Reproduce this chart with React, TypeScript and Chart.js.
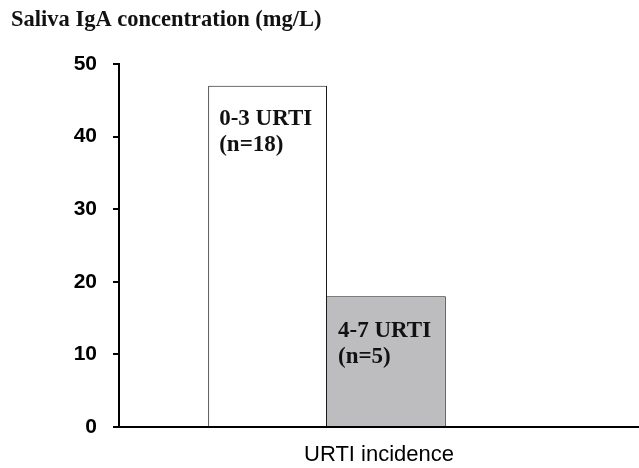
import React, { useEffect, useRef } from 'react';
import { Chart, registerables } from 'chart.js';

Chart.register(...registerables);

// ---- data ----
const groupLabels = ['0-3 URTI', '4-7 URTI'];
const groupSizes = ['(n=18)', '(n=5)'];
const igaValues = [47, 18];
const barColors = ['#ffffff', '#bdbdc0'];
const yMin = 0;
const yMax = 50;
const yStep = 10;
const xTitle = 'URTI incidence';
const chartTitle = 'Saliva IgA concentration (mg/L)';
// the x axis is a 0–5 range, the bar group sits at position 2
const xRange = [0, 5];
const groupPosition = 2;

const barLabelPlugin = {
  id: 'barLabels',
  afterDatasetsDraw(chart: any) {
    const ctx = chart.ctx;
    ctx.save();
    ctx.font = 'bold 23px "Liberation Serif", "DejaVu Serif", serif';
    ctx.fillStyle = '#111';
    ctx.textAlign = 'left';
    ctx.textBaseline = 'alphabetic';
    chart.data.datasets.forEach((_ds: any, i: number) => {
      const meta = chart.getDatasetMeta(i);
      meta.data.forEach((bar: any) => {
        const { x, y, width } = bar.getProps(['x', 'y', 'width'], true);
        const left = x - width / 2 + 11;
        ctx.fillText(groupLabels[i], left, y + 39 + i * 2);
        ctx.fillText(groupSizes[i], left, y + 65 + i * 2);
      });
    });
    ctx.restore();
  },
};

export default function App() {
  const canvasRef = useRef<HTMLCanvasElement | null>(null);

  useEffect(() => {
    if (!canvasRef.current) return;
    const chart = new Chart(canvasRef.current, {
      type: 'bar',
      data: {
        datasets: groupLabels.map((label, i) => ({
          label: `${label} ${groupSizes[i]}`,
          data: [{ x: groupPosition, y: igaValues[i] }],
          backgroundColor: barColors[i],
          borderColor: '#1a1a1a',
          borderWidth: i === 0 ? { top: 1, left: 1, right: 1, bottom: 0 } : { top: 1, left: 0, right: 1, bottom: 0 },
          categoryPercentage: 0.457,
          barPercentage: 1,
        })),
      },
      options: {
        animation: false,
        responsive: true,
        maintainAspectRatio: false,
        layout: { padding: { left: 11, right: 0, top: 0, bottom: 0 } },
        plugins: {
          legend: { display: false },
          tooltip: { enabled: false },
          title: {
            display: true,
            text: chartTitle,
            align: 'start',
            color: '#111',
            font: { family: '"Liberation Serif", "DejaVu Serif", serif', size: 22.5, weight: 'bold' },
            padding: { top: 7, bottom: 30 },
          },
        },
        scales: {
          x: {
            type: 'linear',
            offset: false,
            min: xRange[0],
            max: xRange[1],
            ticks: { display: false, stepSize: 5 },
            grid: { display: false, drawTicks: false },
            border: { display: true, color: '#000', width: 2 },
            title: {
              display: true,
              text: xTitle,
              color: '#000',
              font: { family: '"Liberation Sans", Arial, sans-serif', size: 22 },
              padding: { top: 14.6, bottom: 0 },
            },
          },
          y: {
            min: yMin,
            max: yMax,
            ticks: {
              stepSize: yStep,
              color: '#000',
              padding: 16,
              font: { family: '"Liberation Sans", Arial, sans-serif', size: 21, weight: 'bold' },
            },
            grid: {
              drawOnChartArea: false,
              drawTicks: true,
              tickLength: 6,
              color: '#000',
              lineWidth: 2,
            },
            border: { display: true, color: '#000', width: 2 },
            afterFit: (scale: any) => {
              scale.width = 108;
            },
          },
        },
      },
      plugins: [barLabelPlugin],
    } as any);
    return () => chart.destroy();
  }, []);

  return (
    <div style={{ position: 'absolute', left: 0, top: 0, width: 639, height: 468, background: '#fff' }}>
      <canvas ref={canvasRef} style={{ display: 'block' }} />
    </div>
  );
}
